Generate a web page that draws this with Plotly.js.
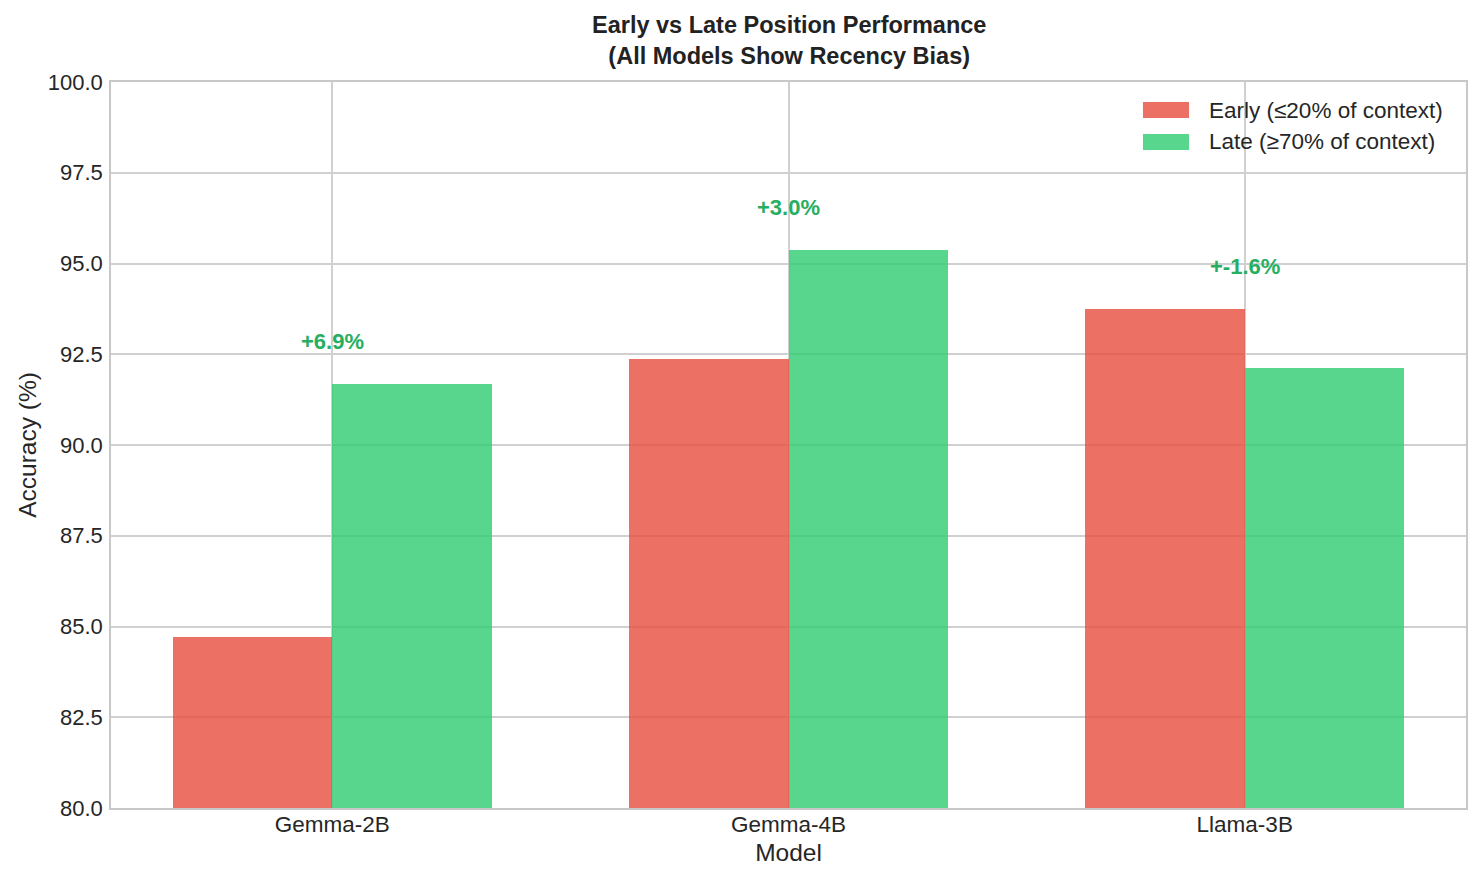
<!DOCTYPE html>
<html>
<head>
<meta charset="utf-8">
<script src="https://cdn.plot.ly/plotly-3.0.1.min.js"></script>
<style>html,body{margin:0;padding:0;background:#fff;}#chart{width:1481px;height:882px;}</style>
</head>
<body>
<div id="chart"></div>
<script>
const models = ["Gemma-2B", "Gemma-4B", "Llama-3B"];
const earlyAcc = [84.72, 92.37, 93.75];
const lateAcc = [91.67, 95.37, 92.12];
const diffLabels = ["+6.9%", "+3.0%", "+-1.6%"];
const seriesNames = ["Early (≤20% of context)", "Late (≥70% of context)"];
const seriesColors = ["rgba(231,76,60,0.8)", "rgba(46,204,113,0.8)"];
const yTicks = [80, 82.5, 85, 87.5, 90, 92.5, 95, 97.5, 100];
const yTickText = ["80.0", "82.5", "85.0", "87.5", "90.0", "92.5", "95.0", "97.5", "100.0"];

const font = "Liberation Sans, Arial, sans-serif";
const xIdx = models.map((m, i) => i);
const w = 0.35;

const traces = [
  {type: "bar", name: seriesNames[0], x: xIdx.map(i => i - w/2), y: earlyAcc, width: w,
   marker: {color: seriesColors[0]}, hoverinfo: "y", showlegend: false},
  {type: "bar", name: seriesNames[1], x: xIdx.map(i => i + w/2), y: lateAcc, width: w,
   marker: {color: seriesColors[1]}, hoverinfo: "y", showlegend: false}
];

const annotations = xIdx.map(i => ({
  x: i, y: Math.max(earlyAcc[i], lateAcc[i]) + 1.0, xref: "x", yref: "y",
  text: "<b>" + diffLabels[i] + "</b>", showarrow: false, yanchor: "bottom", yshift: -8,
  font: {family: font, size: 22, color: "#27ae60"}
}));

// title
annotations.push({
  x: 0.5, y: 1.0565, xref: "paper", yref: "paper", xanchor: "center", yanchor: "middle",
  text: "<b>Early vs Late Position Performance<br>(All Models Show Recency Bias)</b>",
  showarrow: false, font: {family: font, size: 23.5, color: "#222"}
});

// custom legend (matplotlib-style rectangle patches)
const legX0 = 0.7616, legX1 = 0.7956, legTextX = 0.8089;
const legRows = [[0.9504, 0.9725, 0.9614], [0.9063, 0.9284, 0.9174]];
const shapes = [];
seriesNames.forEach((n, k) => {
  shapes.push({type: "rect", xref: "paper", yref: "paper", x0: legX0, x1: legX1,
               y0: legRows[k][0], y1: legRows[k][1], fillcolor: seriesColors[k],
               line: {width: 0}});
  annotations.push({x: legTextX, y: legRows[k][2], xref: "paper", yref: "paper",
                    xanchor: "left", yanchor: "middle", text: n, showarrow: false,
                    font: {family: font, size: 22.5, color: "#262626"}});
});

const layout = {
  width: 1481, height: 882,
  margin: {l: 111, r: 15, t: 82, b: 74},
  paper_bgcolor: "#fff", plot_bgcolor: "#fff",
  barmode: "overlay",
  bargap: 0,
  xaxis: {range: [-0.485, 2.485], tickvals: xIdx, ticktext: models,
          showgrid: true, gridcolor: "#d0d0d0", gridwidth: 1.5,
          showline: true, linecolor: "#c8c8c8", linewidth: 1.6, mirror: true,
          zeroline: false, ticks: "", ticklabelstandoff: -5,
          tickfont: {family: font, size: 22.5, color: "#262626"},
          automargin: false,
          title: {text: "Model", font: {family: font, size: 24.5, color: "#262626"}, standoff: 8}},
  yaxis: {range: [80, 100], tickvals: yTicks, ticktext: yTickText,
          showgrid: true, gridcolor: "#d0d0d0", gridwidth: 1.5,
          showline: true, linecolor: "#c8c8c8", linewidth: 1.6, mirror: true,
          zeroline: false, ticks: "", ticklabelstandoff: 2,
          tickfont: {family: font, size: 22, color: "#262626"},
          automargin: false,
          title: {text: "Accuracy (%)", font: {family: font, size: 24.5, color: "#262626"}, standoff: 4}},
  annotations: annotations,
  shapes: shapes,
  showlegend: false
};

Plotly.newPlot("chart", traces, layout, {displayModeBar: false, responsive: false});
</script>
</body>
</html>
